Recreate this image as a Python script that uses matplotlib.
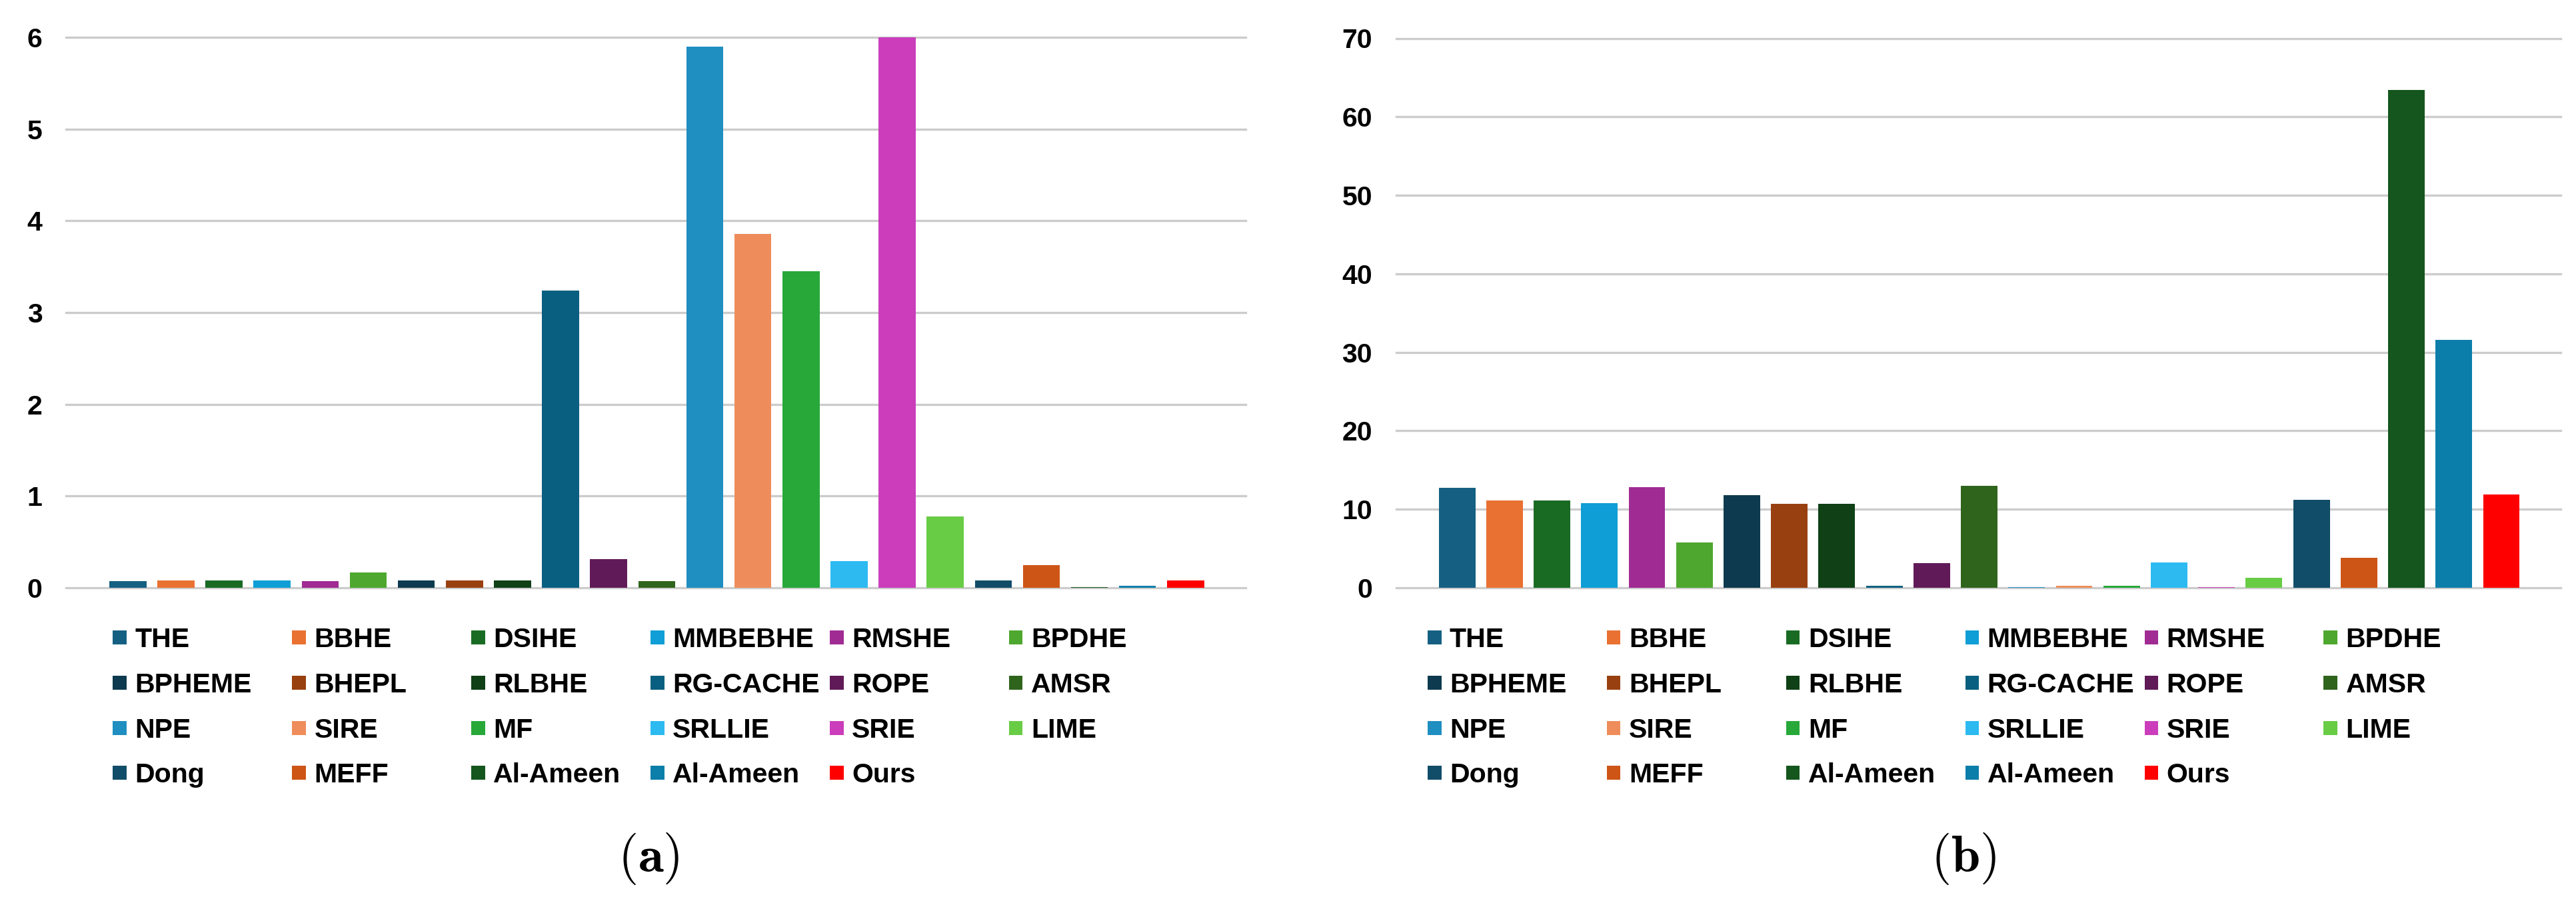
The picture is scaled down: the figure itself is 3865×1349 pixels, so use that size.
import matplotlib
matplotlib.use("Agg")
import matplotlib.pyplot as plt
from matplotlib.patches import Rectangle

# ---------------- data ----------------
methods = ["THE", "BBHE", "DSIHE", "MMBEBHE", "RMSHE", "BPDHE",
           "BPHEME", "BHEPL", "RLBHE", "RG-CACHE", "ROPE", "AMSR",
           "NPE", "SIRE", "MF", "SRLLIE", "SRIE", "LIME",
           "Dong", "MEFF", "Al-Ameen", "Al-Ameen", "Ours"]

values_a = [0.07, 0.08, 0.08, 0.08, 0.07, 0.17,
            0.08, 0.08, 0.08, 3.24, 0.31, 0.07,
            5.90, 3.86, 3.45, 0.29, 6.00, 0.78,
            0.08, 0.25, 0.01, 0.02, 0.08]

values_b = [12.7, 11.1, 11.1, 10.8, 12.8, 5.8,
            11.8, 10.7, 10.7, 0.25, 3.1, 12.95,
            0.1, 0.25, 0.25, 3.2, 0.1, 1.25,
            11.2, 3.8, 63.4, 31.6, 11.9]

colors = ["#156082", "#E97132", "#196B24", "#0F9ED5", "#A02B93", "#4EA72E",
          "#0D3A4E", "#994010", "#0F4016", "#095F80", "#601A58", "#2F641C",
          "#1F8EC0", "#EE8D5B", "#27A839", "#2CBAF0", "#CB3DBB", "#68CC45",
          "#114D68", "#CD5516", "#14561D", "#0C7EAA", "#FF0000"]

yticks_a = [0, 1, 2, 3, 4, 5, 6]
yticks_b = [0, 10, 20, 30, 40, 50, 60, 70]
captions = ["a", "b"]

# ---------------- figure ----------------
W, H = 3866, 1349
plt.rcParams["mathtext.fontset"] = "cm"
fig = plt.figure(figsize=(W / 100, H / 100), dpi=100)
fig.patch.set_facecolor("white")

FONT = "Liberation Sans"
FS = 29.5


def fx(px):
    return px / W


def fy(py):
    return 1 - py / H


def make_axes(x0, x1, ytop, ybot, vals, yticks):
    ax = fig.add_axes([fx(x0), fy(ybot), fx(x1 - x0), (ybot - ytop) / H])
    xs = list(range(len(vals)))
    ax.bar(xs, vals, width=0.77, color=colors, zorder=3, linewidth=0)
    ax.set_xlim(-1.28, len(vals) - 1 + 1.25)
    ax.set_ylim(yticks[0], yticks[-1])
    ax.set_yticks(yticks)
    ax.set_xticks([])
    for s in ax.spines.values():
        s.set_visible(False)
    ax.set_axisbelow(True)
    ax.yaxis.grid(True, color="#cccccc", linewidth=2.4)
    for gl in ax.get_ygridlines():
        gl.set_clip_on(False)
    ax.tick_params(axis="y", length=0, pad=26, labelsize=FS)
    for lab in ax.get_yticklabels():
        lab.set_fontfamily(FONT)
        lab.set_fontweight("bold")
    ax.set_facecolor("white")
    return ax


make_axes(99.5, 1869, 56, 882, values_a, yticks_a)
make_axes(2095, 3842, 57.5, 882, values_b, yticks_b)


def draw_legend(x_start, col_step=268.9, row_centers=(956, 1024, 1092, 1159), ncol=6):
    for i, (name, c) in enumerate(zip(methods, colors)):
        r, k = divmod(i, ncol)
        xm = x_start + k * col_step
        yc = row_centers[r]
        fig.add_artist(Rectangle((fx(xm), fy(yc + 10.5)), fx(20.5), 21 / H,
                                 transform=fig.transFigure, facecolor=c,
                                 edgecolor="none"))
        fig.text(fx(xm + 33), fy(yc + 15), name, fontsize=FS, fontfamily=FONT,
                 fontweight="bold", ha="left", va="baseline", color="black")


draw_legend(169.5)
draw_legend(2142)

fig.text(fx(973), fy(1288), r"$(\mathbf{%s})$" % captions[0], fontsize=56,
         ha="center", va="center")
fig.text(fx(2946), fy(1288), r"$(\mathbf{%s})$" % captions[1], fontsize=56,
         ha="center", va="center")

fig.savefig("out.png", dpi=100, facecolor="white")
